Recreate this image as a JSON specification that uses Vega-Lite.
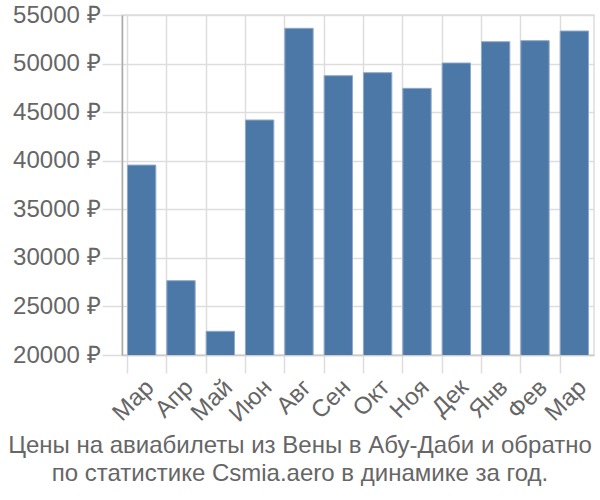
{
  "$schema": "https://vega.github.io/schema/vega-lite/v6.json",
  "width": 472,
  "height": 340,
  "autosize": {"type": "none"},
  "padding": {"left": 122, "top": 15, "right": 6, "bottom": 145},
  "background": "white",
  "config": {
    "view": {"stroke": "#dddddd", "strokeWidth": 1.5},
    "font": "Liberation Sans"
  },
  "title": {
    "text": ["Цены на авиабилеты из Вены в Абу-Даби и обратно", "по статистике Csmia.aero в динамике за год."],
    "orient": "bottom",
    "anchor": "middle",
    "dx": -58,
    "offset": 8,
    "fontSize": 24,
    "font": "Liberation Sans",
    "fontWeight": "normal",
    "color": "#666666",
    "lineHeight": 28
  },
  "data": {
    "values": [
      {"idx": 0, "month": "Мар", "price": 39550},
      {"idx": 1, "month": "Апр", "price": 27650},
      {"idx": 2, "month": "Май", "price": 22440},
      {"idx": 3, "month": "Июн", "price": 44190},
      {"idx": 4, "month": "Авг", "price": 53630},
      {"idx": 5, "month": "Сен", "price": 48750},
      {"idx": 6, "month": "Окт", "price": 49060},
      {"idx": 7, "month": "Ноя", "price": 47450},
      {"idx": 8, "month": "Дек", "price": 50060},
      {"idx": 9, "month": "Янв", "price": 52250},
      {"idx": 10, "month": "Фев", "price": 52360},
      {"idx": 11, "month": "Мар", "price": 53350}
    ]
  },
  "mark": {"type": "bar", "color": "#4c78a8", "stroke": "#8fa9c8", "strokeWidth": 1, "clip": true},
  "encoding": {
    "x": {
      "field": "idx",
      "type": "ordinal",
      "scale": {"paddingInner": 0.28, "paddingOuter": 0.14},
      "axis": {
        "title": null,
        "labelExpr": "['Мар','Апр','Май','Июн','Авг','Сен','Окт','Ноя','Дек','Янв','Фев','Мар'][datum.value]",
        "labelAngle": -45,
        "labelAlign": "right",
        "labelBaseline": "top",
        "labelFontSize": 24,
        "labelColor": "#666666",
        "labelFont": "Liberation Sans",
        "labelPadding": 2,
        "bandPosition": 0,
        "grid": true,
        "gridColor": "#dddddd",
        "gridWidth": 1.5,
        "tickColor": "#dddddd",
        "tickWidth": 1.5,
        "tickSize": 18,
        "domainColor": "#cccccc",
        "domainWidth": 1.5
      }
    },
    "y": {
      "field": "price",
      "type": "quantitative",
      "scale": {"domain": [20000, 55000], "nice": false, "zero": false},
      "axis": {
        "title": null,
        "values": [20000, 25000, 30000, 35000, 40000, 45000, 50000, 55000],
        "labelExpr": "datum.value + ' ₽'",
        "labelFontSize": 24,
        "labelColor": "#666666",
        "labelFont": "Liberation Sans",
        "labelPadding": 2,
        "grid": true,
        "gridColor": "#dddddd",
        "gridWidth": 1.5,
        "tickColor": "#dddddd",
        "tickWidth": 1.5,
        "tickSize": 20,
        "domainColor": "#aaaaaa",
        "domainWidth": 1.5
      }
    }
  }
}
